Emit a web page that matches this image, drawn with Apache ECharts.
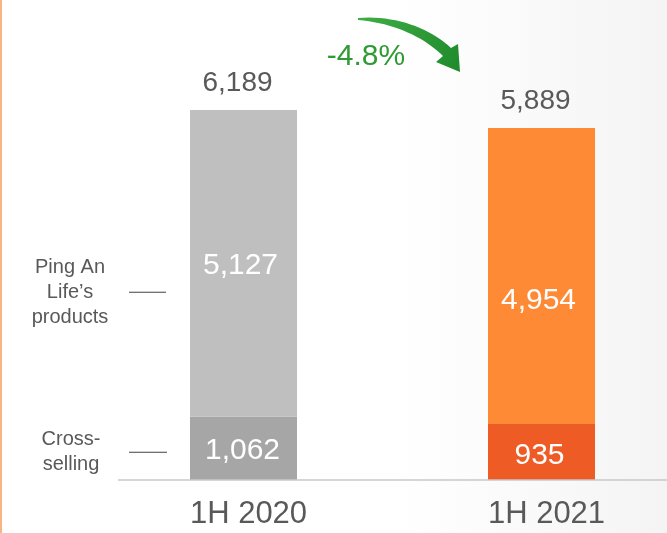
<!DOCTYPE html>
<html>
<head>
<meta charset="utf-8">
<style>
  html, body { margin: 0; padding: 0; background: #ffffff; }
  #chart { width: 667px; height: 533px; }
</style>
<script src="https://cdn.jsdelivr.net/npm/echarts@6/dist/echarts.min.js"></script>
</head>
<body>
<div id="chart"></div>
<script>
// Half-year periods and the two components of the bar stack
const periods = ['1H 2020', '1H 2021'];
const crossSelling = [1062, 935];
const lifeProducts = [5127, 4954];
const changeText = '-4.8%';

const totals = periods.map((_, i) => crossSelling[i] + lifeProducts[i]);
const fmt = v => v.toLocaleString('en-US');

const FONT = '"Liberation Sans", Arial, sans-serif';
const inkGrey = '#595959';

// label nudges inside each segment ([dx, dy] in px)
const lifeNudge = [[-3, 2], [-3, 25]];
const crossNudge = [[-1, 2], [-2, 4]];

const chart = echarts.init(document.getElementById('chart'), null, { renderer: 'canvas' });

const barBase = { type: 'bar', stack: 'total', barWidth: 107, clip: false };

const option = {
  backgroundColor: {
    type: 'linear', x: 0, y: 0, x2: 1, y2: 0,
    colorStops: [
      { offset: 0, color: '#ffffff' },
      { offset: 0.6, color: '#ffffff' },
      { offset: 1, color: '#f4f4f4' }
    ]
  },
  animation: false,
  // the two period columns sit on the grid's left and right edges
  grid: { left: 243.5, width: 298, top: 61.5, bottom: 53 },
  xAxis: {
    type: 'category',
    data: periods,
    boundaryGap: false,
    axisLine: { show: false },
    axisTick: { show: false },
    axisLabel: {
      color: inkGrey, fontSize: 31, fontFamily: FONT, margin: 19,
      padding: [0, 0, 0, 10]
    }
  },
  yAxis: {
    type: 'value', min: 0, max: 7000, interval: 1000,
    show: false,
    splitLine: { show: false }
  },
  series: [
    Object.assign({}, barBase, {
      name: 'Cross-selling',
      data: crossSelling.map((v, i) => ({
        value: v,
        itemStyle: { color: i === 0 ? '#a6a6a6' : '#ef5b25' },
        label: { offset: crossNudge[i] }
      })),
      label: {
        show: true, position: 'inside', color: '#ffffff',
        fontSize: 30, fontFamily: FONT, formatter: p => fmt(p.value)
      }
    }),
    Object.assign({}, barBase, {
      name: 'Ping An Life’s products',
      data: lifeProducts.map((v, i) => ({
        value: v,
        itemStyle: { color: i === 0 ? '#bfbfbf' : '#fe8a36' },
        label: { offset: lifeNudge[i] }
      })),
      label: {
        show: true, position: 'inside', color: '#ffffff',
        fontSize: 30, fontFamily: FONT, formatter: p => fmt(p.value)
      }
    }),
    Object.assign({}, barBase, {
      name: 'Total',
      data: periods.map(() => 0),
      itemStyle: { color: 'transparent' },
      label: {
        show: true, position: 'top', distance: 13, offset: [-6, 0], color: inkGrey,
        fontSize: 28, fontFamily: FONT,
        formatter: p => fmt(totals[p.dataIndex])
      }
    })
  ]
};

chart.setOption(option);

// baseline, side captions, leader lines and the change arrow
const baseY = chart.convertToPixel({ yAxisIndex: 0 }, 0);
const lifeMidY = chart.convertToPixel({ yAxisIndex: 0 }, crossSelling[0] + lifeProducts[0] / 2);
const crossMidY = chart.convertToPixel({ yAxisIndex: 0 }, crossSelling[0] / 2);

// sample a cubic bezier into points
function cubic(p0, p1, p2, p3, n) {
  const pts = [];
  for (let k = 0; k <= n; k++) {
    const t = k / n, u = 1 - t;
    pts.push([
      u * u * u * p0[0] + 3 * u * u * t * p1[0] + 3 * u * t * t * p2[0] + t * t * t * p3[0],
      u * u * u * p0[1] + 3 * u * u * t * p1[1] + 3 * u * t * t * p2[1] + t * t * t * p3[1]
    ]);
  }
  return pts;
}
const arrowOuter = cubic([358, 18], [395, 15], [430, 28], [451, 48], 20);
const arrowInner = cubic([443, 56], [425, 38], [395, 23], [358, 20], 20);
const arrowPoints = arrowOuter.concat([[458, 44], [460, 72], [436, 62]], arrowInner);

chart.setOption({
  graphic: [
    { type: 'rect', left: 0, top: 0, shape: { width: 2, height: 533 }, style: { fill: '#f9b384' } },
    { type: 'line', z: 10, shape: { x1: 118, y1: baseY, x2: 667, y2: baseY }, style: { stroke: '#c8c8c8', lineWidth: 1.5 } },
    {
      type: 'text', x: 70, y: lifeMidY + 29,
      style: {
        text: 'Ping An\nLife’s\nproducts', fill: inkGrey, fontSize: 20, fontFamily: FONT,
        lineHeight: 25, textAlign: 'center', textVerticalAlign: 'middle'
      }
    },
    {
      type: 'text', x: 71, y: crossMidY + 4,
      style: {
        text: 'Cross-\nselling', fill: inkGrey, fontSize: 20, fontFamily: FONT,
        lineHeight: 25, textAlign: 'center', textVerticalAlign: 'middle'
      }
    },
    { type: 'line', shape: { x1: 129, y1: lifeMidY + 29, x2: 166, y2: lifeMidY + 29 }, style: { stroke: '#404040', lineWidth: 1 } },
    { type: 'line', shape: { x1: 129, y1: crossMidY + 4, x2: 167, y2: crossMidY + 4 }, style: { stroke: '#404040', lineWidth: 1 } },
    {
      type: 'text', x: 366, y: 57,
      style: {
        text: changeText, fill: '#2e9b33', fontSize: 30, fontFamily: FONT,
        textAlign: 'center', textVerticalAlign: 'middle'
      }
    },
    {
      type: 'polygon',
      shape: { points: arrowPoints },
      style: {
        fill: {
          type: 'linear', x: 0, y: 0, x2: 1, y2: 1,
          colorStops: [
            { offset: 0, color: '#3fae45' },
            { offset: 1, color: '#1f8a2c' }
          ]
        }
      }
    }
  ]
});
</script>
</body>
</html>
